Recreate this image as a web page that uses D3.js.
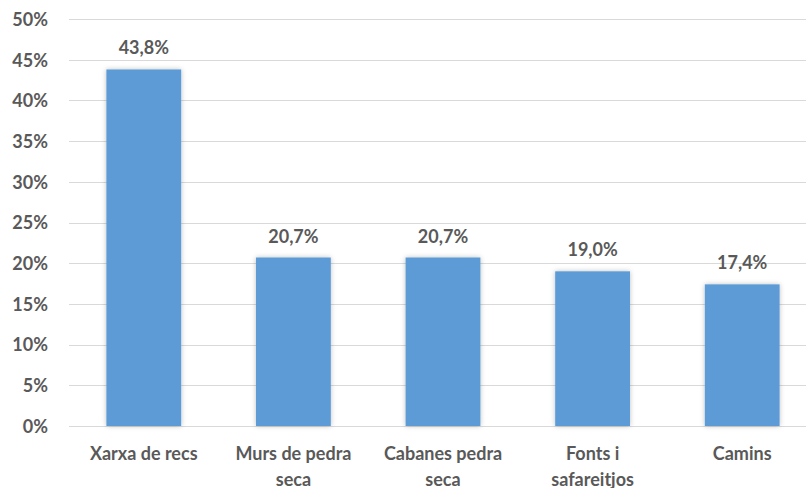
<!DOCTYPE html>
<html><head><meta charset="utf-8">
<script src="https://cdn.jsdelivr.net/npm/d3@7"></script>
<style>
body{margin:0;background:#fff;}
svg{display:block;}
text{font-family:Lato,"Open Sans",sans-serif;font-weight:bold;fill:#595959;}
</style></head>
<body><svg id="chart" width="806" height="488"></svg>
<script>
const categories = ["Xarxa de recs","Murs de pedra seca","Cabanes pedra seca","Fonts i safareitjos","Camins"];
const values = [43.8, 20.7, 20.7, 19.0, 17.4];
const valueLabels = ["43,8%","20,7%","20,7%","19,0%","17,4%"];
const yTicks = [0,5,10,15,20,25,30,35,40,45,50];

(function(){
const svg = d3.select("#chart");
const mLeft = 69, mRight = 817, mTop = 19, mBottom = 426;

const x = d3.scaleBand().domain(categories).range([mLeft, mRight]).paddingInner(0.5).paddingOuter(0.25);
const y = d3.scaleLinear().domain([0, 50]).range([mBottom, mTop]);

const defs = svg.append("defs");
const f = defs.append("filter").attr("id","sh").attr("x","-20%").attr("y","-20%").attr("width","140%").attr("height","140%");
f.append("feDropShadow").attr("dx",0).attr("dy",0).attr("stdDeviation",2.5).attr("flood-color","#000").attr("flood-opacity",0.25);

// gridlines
svg.append("g").selectAll("line").data(yTicks).join("line")
  .attr("x1", mLeft).attr("x2", 806)
  .attr("y1", d => Math.round(y(d)) + 0.5).attr("y2", d => Math.round(y(d)) + 0.5)
  .attr("stroke", "#d9d9d9").attr("stroke-width", 1);

// y axis labels
const yAxis = d3.axisLeft(y).tickValues(yTicks).tickFormat(d => d + "%").tickSize(0).tickPadding(0);
const ya = svg.append("g").attr("transform", `translate(48,0)`).call(yAxis);
ya.select(".domain").remove();
ya.selectAll("text").attr("font-size", 18).attr("font-family", "Lato").attr("font-weight","bold").attr("fill","#595959").attr("dy","0.35em");

// bars
svg.append("g").selectAll("rect").data(values).join("rect")
  .attr("x", (d,i) => x(categories[i]))
  .attr("y", d => y(d))
  .attr("width", x.bandwidth())
  .attr("height", d => y(0) - y(d))
  .attr("fill", "#5b9bd5")
  .attr("filter","url(#sh)");

// value labels
svg.append("g").selectAll("text").data(values).join("text")
  .attr("x", (d,i) => x(categories[i]) + x.bandwidth()/2)
  .attr("y", d => y(d) - 15)
  .attr("text-anchor","middle").attr("font-size", 18)
  .text((d,i) => valueLabels[i]);

// x axis labels with wrapping
const xAxis = d3.axisBottom(x).tickSize(0).tickPadding(0);
const xa = svg.append("g").attr("transform", `translate(0,${mBottom})`).call(xAxis);
xa.select(".domain").remove();
xa.selectAll("text").attr("font-size", 18).attr("font-family","Lato").attr("font-weight","bold").attr("fill","#595959")
  .attr("y", 34).attr("dy", 0)
  .each(function(d){
    const t = d3.select(this);
    const words = d.split(" ");
    const maxW = 135;
    t.text(null);
    let line = [], lineNo = 0;
    let tspan = t.append("tspan").attr("x",0).attr("y",34);
    for (const w of words) {
      line.push(w);
      tspan.text(line.join(" "));
      if (tspan.node().getComputedTextLength() > maxW && line.length > 1) {
        line.pop();
        tspan.text(line.join(" "));
        line = [w];
        lineNo++;
        tspan = t.append("tspan").attr("x",0).attr("y",34 + lineNo*26).text(w);
      }
    }
  });
})();
</script></body></html>
